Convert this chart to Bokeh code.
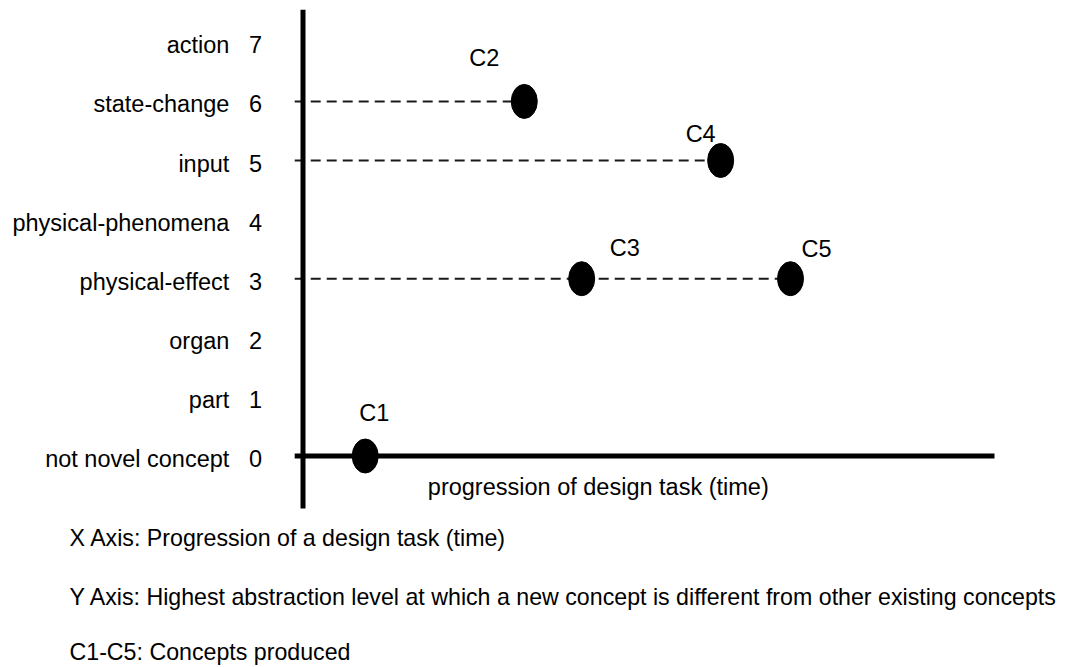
from bokeh.plotting import figure
from bokeh.models import Range1d, ColumnDataSource, Label
from bokeh.core.properties import value
from bokeh.embed import file_html
from bokeh.resources import INLINE

# ---- data ----
levels = [0, 1, 2, 3, 4, 5, 6, 7]
level_names = ["not novel concept", "part", "organ", "physical-effect",
               "physical-phenomena", "input", "state-change", "action"]
concepts = ["C1", "C2", "C3", "C4", "C5"]
concept_time = [0.90, 3.20, 4.03, 6.04, 7.05]
concept_level = [0, 6, 3, 5, 3]
x_title = "progression of design task (time)"
notes = ["X Axis: Progression of a design task (time)",
         "Y Axis: Highest abstraction level at which a new concept is different from other existing concepts",
         "C1-C5: Concepts produced"]

# ---- layout / style ----
FONT = value("Liberation Sans")
FS = "23.5px"
NOTE_FS = "23.2px"
W, H = 1068, 667
px_x, px_y = 69.15, 59.1          # pixels per time unit / per level
ox, oy = 302.5, 455.5             # origin position inside the canvas
TIME_END = 10.0
AXIS_TOP, AXIS_BOTTOM = 7.55, -0.89
TICK_LEFT = -0.12
label_dx = [9, -40, 43, -20, 26]
label_dy = [-43, -43, -31, -27, -30]
SP = "\u00a0\u00a0\u00a0"

p = figure(width=W, height=H, output_backend="svg", toolbar_location=None,
           x_range=Range1d(-ox / px_x, (W - ox) / px_x),
           y_range=Range1d(-(H - oy) / px_y, oy / px_y),
           min_border=0, outline_line_color=None)
p.axis.visible = False
p.grid.visible = False
p.background_fill_color = "white"
p.border_fill_color = "white"

# dashed guide lines: from the y axis to the last concept at each level
dash_x1, dash_y = [], []
for lv in sorted(set(concept_level)):
    if lv == 0:
        continue
    dash_y.append(lv)
    dash_x1.append(max(t for t, l in zip(concept_time, concept_level) if l == lv))
p.segment(x0=[TICK_LEFT] * len(dash_y), y0=dash_y, x1=dash_x1, y1=dash_y,
          line_color="#1a1a1a", line_width=2, line_dash="10 6")

# axes lines
p.segment(x0=[0], y0=[AXIS_BOTTOM], x1=[0], y1=[AXIS_TOP],
          line_color="black", line_width=5, line_cap="butt")
p.segment(x0=[TICK_LEFT], y0=[0], x1=[TIME_END], y1=[0],
          line_color="black", line_width=5, line_cap="butt")

# level labels
lab_src = ColumnDataSource(dict(
    x=[0] * len(levels), y=levels,
    t=[f"{n}{SP}{l}" for n, l in zip(level_names, levels)]))
p.text(x="x", y="y", text="t", source=lab_src, x_offset=-41, y_offset=3,
       text_align="right", text_baseline="middle", text_font=FONT,
       text_font_size=FS, text_color="black")

# concept dots
src = ColumnDataSource(dict(x=concept_time, y=concept_level, name=concepts,
                            dx=label_dx, dy=label_dy))
p.ellipse(x="x", y="y", width=26, height=34, width_units="screen",
          height_units="screen", source=src, fill_color="black", line_color="black")
p.text(x="x", y="y", text="name", source=src, x_offset="dx", y_offset="dy",
       text_align="center", text_baseline="middle", text_font=FONT,
       text_font_size=FS, text_color="black")

# x axis caption
p.add_layout(Label(x=TIME_END * 0.427, y=0, text=x_title, y_offset=-31,
                   text_align="center", text_baseline="middle",
                   text_font="Liberation Sans", text_font_size=FS, text_color="black"))

# footnotes
note_y = [537, 596, 651]
for txt, yy in zip(notes, note_y):
    p.add_layout(Label(x=69, y=H - yy, x_units="screen", y_units="screen", text=txt,
                       text_align="left", text_baseline="middle",
                       text_font="Liberation Sans", text_font_size=NOTE_FS,
                       text_color="black"))

open("out.html", "w").write(file_html(p, INLINE))
